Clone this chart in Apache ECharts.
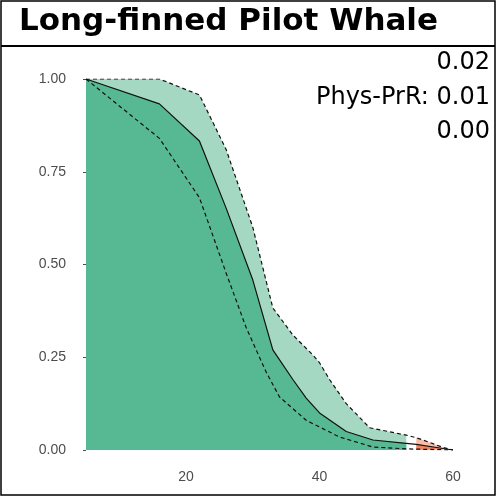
<!DOCTYPE html>
<html>
<head>
<meta charset="utf-8">
<title>Long-finned Pilot Whale</title>
<script src="https://cdn.jsdelivr.net/npm/echarts@6/dist/echarts.min.js"></script>
<style>
  html, body { margin: 0; padding: 0; background: #fff; }
  #main { width: 496px; height: 496px; }
</style>
</head>
<body>
<div id="main"></div>
<script>
// data
var upper = [[5,1],[16,1],[22,0.957],[26,0.81],[30,0.60],[33,0.383],[36,0.31],[39,0.256],[40,0.235],[41.5,0.19],[44,0.125],[47.5,0.06],[53,0.04],[54.5,0.033],[55.5,0.027],[58.5,0.007],[60,0]];
var mean = [[5,1],[16,0.933],[22,0.833],[26,0.652],[30,0.458],[33,0.27],[36,0.19],[38,0.14],[40,0.10],[44,0.05],[48,0.027],[53,0.018],[54.5,0.015],[58.5,0.004],[60,0]];
var lower = [[5,1],[16,0.84],[22,0.68],[26,0.477],[29,0.33],[32,0.21],[34,0.143],[38,0.08],[43,0.035],[48,0.008],[53,0.003],[60,0]];
var greenEnd = 53, redStart = 54.5, redEnd = 58.5;
var valueLabels = ['0.02', 'Phys-PrR: 0.01', '0.00'];
var xTicks = [20, 40, 60];

function range(arr, a, b) { return arr.filter(function (p) { return p[0] >= a && p[0] <= b; }); }

function area(data, color) {
  return { type: 'line', data: data, symbol: 'none', silent: true,
    lineStyle: { width: 0 }, areaStyle: { color: color, opacity: 1 } };
}
function line(data, dashed) {
  return { type: 'line', data: data, symbol: 'none', silent: true, z: 5,
    lineStyle: { color: '#111', width: 1.2, type: dashed ? [4, 3] : 'solid' } };
}

var chart = echarts.init(document.getElementById('main'));
chart.setOption({
  animation: false,
  grid: { left: 86, top: 79, width: 367, height: 371 },
  xAxis: {
    type: 'value', min: 5, max: 60, interval: 5,
    axisLine: { show: false }, axisTick: { show: false }, splitLine: { show: false },
    axisLabel: { color: '#4d4d4d', fontSize: 14, fontFamily: 'Liberation Sans', margin: 20,
      formatter: function (v) { return xTicks.indexOf(v) >= 0 ? v : ''; } }
  },
  yAxis: {
    type: 'value', min: 0, max: 1, interval: 0.25,
    axisLine: { show: false }, splitLine: { show: false },
    axisTick: { show: true, length: 3, lineStyle: { color: '#4d4d4d' } },
    axisLabel: { color: '#4d4d4d', fontSize: 14, fontFamily: 'Liberation Sans', margin: 20,
      formatter: function (v) { return v.toFixed(2); } }
  },
  graphic: [
    { type: 'rect', shape: { x: 1, y: 1, width: 494, height: 494 }, style: { fill: 'none', stroke: '#000', lineWidth: 1.5 } },
    { type: 'line', shape: { x1: 1, y1: 46, x2: 495, y2: 46 }, style: { stroke: '#000', lineWidth: 2 } },
    { type: 'text', left: 19, top: 6, style: { text: 'Long-finned Pilot Whale', font: 'bold 31px "DejaVu Sans"', fill: '#000' } },
    { type: 'text', right: 6, top: 51, style: { text: valueLabels[0], font: '24px "DejaVu Sans"', fill: '#000', align: 'right' } },
    { type: 'text', right: 6, top: 86, style: { text: valueLabels[1], font: '24px "DejaVu Sans"', fill: '#000', align: 'right' } },
    { type: 'text', right: 6, top: 120, style: { text: valueLabels[2], font: '24px "DejaVu Sans"', fill: '#000', align: 'right' } }
  ],
  series: [
    area(range(upper, 5, greenEnd), '#a5d8c3'),
    area(range(mean, 5, greenEnd), '#57b894'),
    area(range(upper, redStart, redEnd), '#f9bca6'),
    area(range(mean, redStart, redEnd), '#f4825f'),
    line(upper, true),
    line(lower, true),
    line(mean, false)
  ]
});
</script>
</body>
</html>
